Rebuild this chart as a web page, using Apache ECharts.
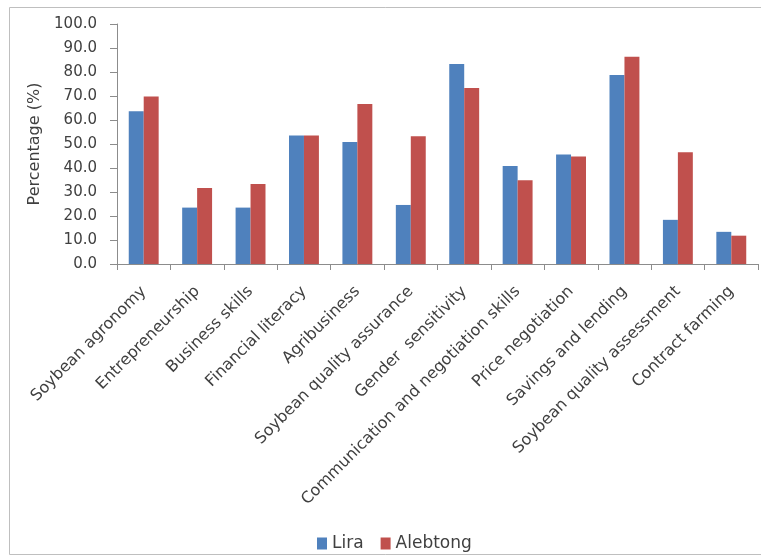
<!DOCTYPE html>
<html>
<head>
<meta charset="utf-8">
<script src="https://cdn.jsdelivr.net/npm/echarts@6/dist/echarts.min.js"></script>
<style>
  html, body { margin: 0; padding: 0; background: #fff; }
  #chart { width: 761px; height: 558px; }
</style>
</head>
<body>
<div id="chart"></div>
<script>
// Training topics received, by district
const categories = [
  'Soybean agronomy', 'Entrepreneurship', 'Business skills', 'Financial literacy',
  'Agribusiness', 'Soybean quality assurance', 'Gender  sensitivity',
  'Communication and negotiation skills', 'Price negotiation', 'Savings and lending',
  'Soybean quality assessment', 'Contract farming'
];
const liraValues     = [63.6, 23.5, 23.5, 53.5, 50.8, 24.6, 83.3, 40.8, 45.6, 78.7, 18.4, 13.4];
const alebtongValues = [69.8, 31.7, 33.3, 53.5, 66.7, 53.2, 73.3, 34.9, 44.8, 86.4, 46.6, 11.8];
const seriesNames = ['Lira', 'Alebtong'];
const yTicks = { min: 0, max: 100, interval: 10 };

const font = '"DejaVu Sans", Verdana, sans-serif';
const textColor = '#404040';
const chart = echarts.init(document.getElementById('chart'), null, { renderer: 'canvas' });

chart.setOption({
  animation: false,
  textStyle: { fontFamily: font },
  graphic: [{
    type: 'rect',
    shape: { x: 9.5, y: 7.5, width: 760, height: 547 },
    style: { fill: 'none', stroke: '#bfbfbf', lineWidth: 1 },
    silent: true
  }],
  grid: { left: 117, right: 3, top: 24, bottom: 294 },
  legend: {
    data: seriesNames,
    top: 530,
    left: 312,
    itemWidth: 10,
    itemHeight: 12,
    itemGap: 17,
    icon: 'rect',
    textStyle: { fontFamily: font, fontSize: 17, color: textColor }
  },
  xAxis: {
    type: 'category',
    data: categories,
    axisLine: { lineStyle: { color: '#8c8c8c' } },
    axisTick: { show: true, length: 6, alignWithLabel: false, lineStyle: { color: '#8c8c8c' } },
    axisLabel: {
      rotate: 45, interval: 0, margin: 25,
      fontFamily: font, fontSize: 16, color: textColor
    }
  },
  yAxis: {
    type: 'value',
    min: yTicks.min, max: yTicks.max, interval: yTicks.interval,
    name: 'Percentage (%)',
    nameLocation: 'middle',
    nameGap: 72,
    nameTextStyle: { fontFamily: font, fontSize: 16, color: textColor },
    axisLine: { show: true, lineStyle: { color: '#8c8c8c' } },
    axisTick: { show: true, length: 7, lineStyle: { color: '#8c8c8c' } },
    splitLine: { show: false },
    axisLabel: {
      margin: 20, fontFamily: font, fontSize: 15, color: textColor,
      formatter: v => v.toFixed(1)
    }
  },
  series: [
    {
      name: seriesNames[0], type: 'bar', data: liraValues,
      itemStyle: { color: '#4f81bd' },
      barGap: '0%', barCategoryGap: '44%'
    },
    {
      name: seriesNames[1], type: 'bar', data: alebtongValues,
      itemStyle: { color: '#c0504d' },
      barGap: '0%', barCategoryGap: '44%'
    }
  ]
});
</script>
</body>
</html>
